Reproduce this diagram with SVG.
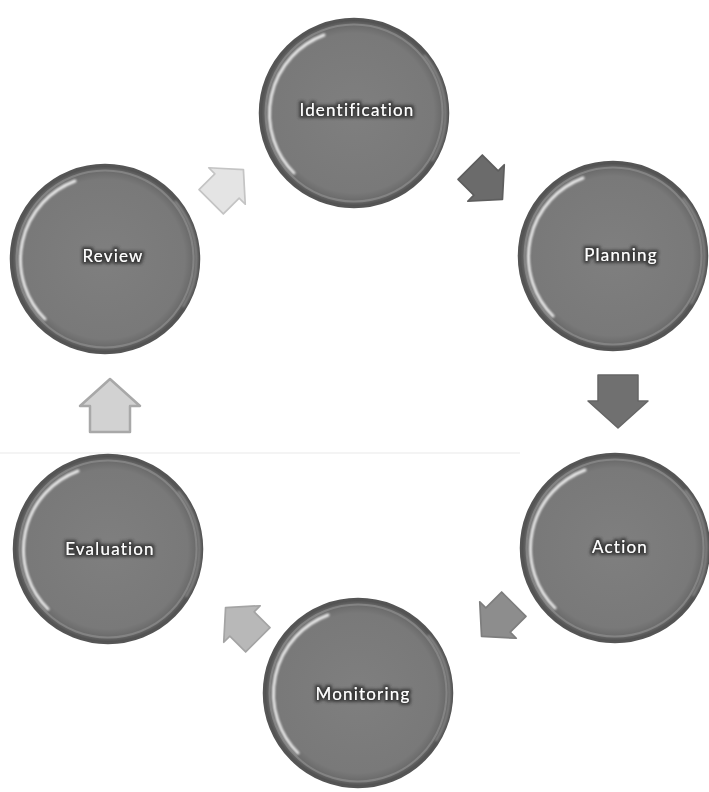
<svg xmlns="http://www.w3.org/2000/svg" width="709" height="792" viewBox="0 0 709 792">
  <defs>
    <radialGradient id="ball" cx="0.5" cy="0.5" r="0.5">
      <stop offset="0" stop-color="#7f7f7f"/>
      <stop offset="0.85" stop-color="#797979"/>
      <stop offset="0.94" stop-color="#6a6a6a"/>
      <stop offset="1" stop-color="#4a4a4a"/>
    </radialGradient>
    <filter id="soft" x="-10%" y="-10%" width="120%" height="120%">
      <feGaussianBlur stdDeviation="0.8"/>
    </filter>
    <filter id="halo" x="-20%" y="-60%" width="140%" height="220%">
      <feMorphology in="SourceAlpha" operator="dilate" radius="2.2" result="d"/>
      <feGaussianBlur in="d" stdDeviation="1.6" result="b"/>
      <feFlood flood-color="#333333" flood-opacity="0.9"/>
      <feComposite in2="b" operator="in" result="shadow"/>
      <feMerge>
        <feMergeNode in="shadow"/>
        <feMergeNode in="SourceGraphic"/>
      </feMerge>
    </filter>
    <!-- ring shape: body + rim + left highlight crescent -->
    <g id="disc">
      <circle r="94" fill="url(#ball)" stroke="#555555" stroke-width="2.5"/>
      <circle r="88.5" fill="none" stroke="#8e8e8e" stroke-width="2" opacity="0.7"/>
      <path d="M -30 -78 A 84 84 0 0 0 -60 60" fill="none" stroke="#ffffff" stroke-width="3" stroke-linecap="round" opacity="0.85" filter="url(#soft)"/>
      <path d="M 70 -58 A 90 90 0 0 1 78 48" fill="none" stroke="#b0b0b0" stroke-width="2" opacity="0.6" filter="url(#soft)"/>
    </g>
    <!-- block arrow pointing right, centred on the origin -->
    <polygon id="arrow" points="-26,-20 0,-20 0,-30 27,0 0,30 0,20 -26,20" stroke-linejoin="round"/>
  </defs>
  <style>
    .label { font-family: Lato, "Open Sans", "Liberation Sans", sans-serif; font-size: 17px; fill: #ffffff; text-anchor: middle; letter-spacing: 1.2px; filter: url(#halo); }
  </style>

  <rect width="709" height="792" fill="#ffffff"/>
  <line x1="0" y1="453" x2="520" y2="453" stroke="#f0f0f0" stroke-width="1.5"/>

  <g id="connectors">
    <use href="#arrow" transform="translate(486,183) rotate(45) scale(0.86)" fill="#6b6b6b" stroke="#5e5e5e" stroke-width="2"/>
    <use href="#arrow" transform="translate(618,401) rotate(90)" fill="#707070" stroke="#666666" stroke-width="1.5"/>
    <use href="#arrow" transform="translate(498,620) rotate(135) scale(0.86)" fill="#8d8d8d" stroke="#7e7e7e" stroke-width="2"/>
    <use href="#arrow" transform="translate(242,624) rotate(225) scale(0.86)" fill="#b8b8b8" stroke="#a4a4a4" stroke-width="2"/>
    <use href="#arrow" transform="translate(110,406) rotate(-90)" fill="#d2d2d2" stroke="#a8a8a8" stroke-width="2.5"/>
    <use href="#arrow" transform="translate(227,186) rotate(-45) scale(0.86)" fill="#e4e4e4" stroke="#c4c4c4" stroke-width="2"/>
  </g>

  <g id="identification">
    <use href="#disc" transform="translate(354,113)"/>
    <text class="label" x="357" y="116">Identification</text>
  </g>
  <g id="planning">
    <use href="#disc" transform="translate(613,256)"/>
    <text class="label" x="621" y="261">Planning</text>
  </g>
  <g id="action">
    <use href="#disc" transform="translate(615,548)"/>
    <text class="label" x="620" y="553">Action</text>
  </g>
  <g id="monitoring">
    <use href="#disc" transform="translate(358,693)"/>
    <text class="label" x="363" y="700">Monitoring</text>
  </g>
  <g id="evaluation">
    <use href="#disc" transform="translate(108,549)"/>
    <text class="label" x="110" y="555">Evaluation</text>
  </g>
  <g id="review">
    <use href="#disc" transform="translate(105,259)"/>
    <text class="label" x="113" y="262">Review</text>
  </g>
</svg>
